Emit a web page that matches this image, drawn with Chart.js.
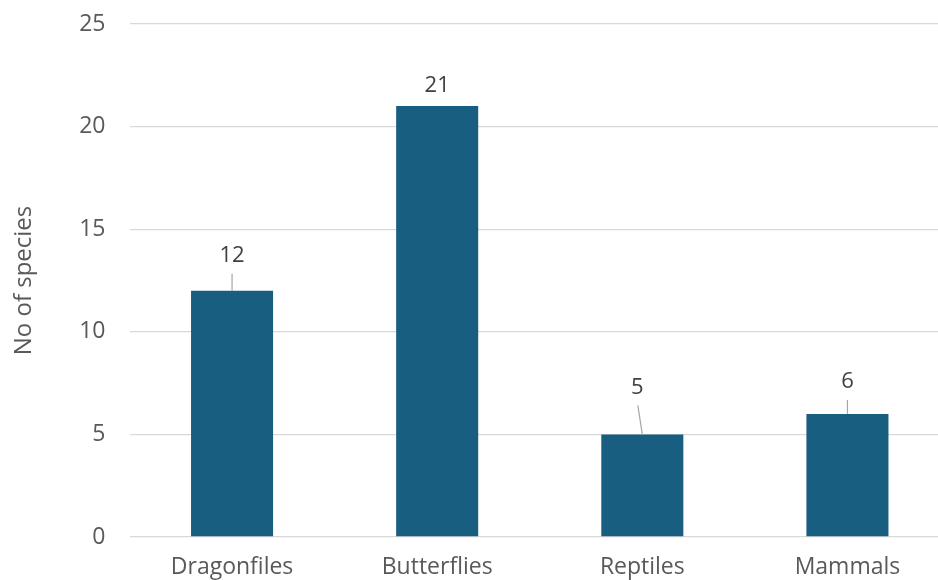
<!DOCTYPE html>
<html>
<head>
<meta charset="utf-8">
<script src="https://cdn.jsdelivr.net/npm/chart.js@4"></script>
<style>
  html, body { margin: 0; padding: 0; background: #fff; overflow: hidden; }
  #wrap { width: 950px; height: 580px; }
</style>
</head>
<body>
<div id="wrap"><canvas id="c" width="950" height="580"></canvas></div>
<script>
const categories = ['Dragonfiles', 'Butterflies', 'Reptiles', 'Mammals'];
const species = [12, 21, 5, 6];
const yTicks = [0, 5, 10, 15, 20, 25];

const FONT = '"Open Sans", "Noto Sans", sans-serif';

// Placement of each value label relative to its bar top, with an optional leader line
const labelPlacement = [
  { dx: 0, dy: -35, leader: true },
  { dx: 0, dy: -20, leader: false },
  { dx: -5, dy: -47, leader: true },
  { dx: 0, dy: -32, leader: true }
];

const valueLabels = {
  id: 'valueLabels',
  afterDatasetsDraw(chart) {
    const ctx = chart.ctx;
    const meta = chart.getDatasetMeta(0);
    ctx.save();
    ctx.font = '22px ' + FONT;
    ctx.fillStyle = '#404040';
    ctx.textAlign = 'center';
    ctx.textBaseline = 'middle';
    meta.data.forEach((bar, i) => {
      const p = labelPlacement[i];
      const tx = bar.x + p.dx;
      const ty = bar.y + p.dy;
      if (p.leader) {
        ctx.strokeStyle = '#a6a6a6';
        ctx.lineWidth = 1.2;
        ctx.beginPath();
        ctx.moveTo(tx - p.dx * 0.1, ty + 18);
        ctx.lineTo(bar.x, bar.y);
        ctx.stroke();
      }
      ctx.fillText(String(species[i]), tx, ty);
    });
    ctx.restore();
  }
};

new Chart(document.getElementById('c'), {
  type: 'bar',
  data: {
    labels: categories,
    datasets: [{
      data: species,
      backgroundColor: '#185e80',
      borderWidth: 0,
      categoryPercentage: 1,
      barPercentage: 0.4
    }]
  },
  options: {
    responsive: false,
    animation: false,
    layout: { padding: { top: 24, right: 0, left: 0, bottom: 0 } },
    plugins: { legend: { display: false }, tooltip: { enabled: false } },
    scales: {
      x: {
        grid: { display: false, drawTicks: false },
        border: { display: false },
        ticks: { color: '#595959', font: { family: FONT, size: 23 }, padding: 17 },
        afterFit(s) { s.height = 43; s.paddingLeft = 0; s.paddingRight = 0; }
      },
      y: {
        min: 0,
        max: 25,
        afterBuildTicks(s) { s.ticks = yTicks.map(v => ({ value: v })); },
        grid: { color: '#d9d9d9', lineWidth: 1.3, drawTicks: false },
        border: { display: false },
        ticks: { color: '#595959', font: { family: FONT, size: 23 }, padding: 24 },
        title: {
          display: true,
          text: 'No of species',
          color: '#595959',
          font: { family: FONT, size: 24 },
          padding: { top: 10, bottom: 0 }
        },
        afterFit(s) { s.width = 129.5; s.paddingTop = 0; s.paddingBottom = 0; }
      }
    }
  },
  plugins: [valueLabels]
});
</script>
</body>
</html>
